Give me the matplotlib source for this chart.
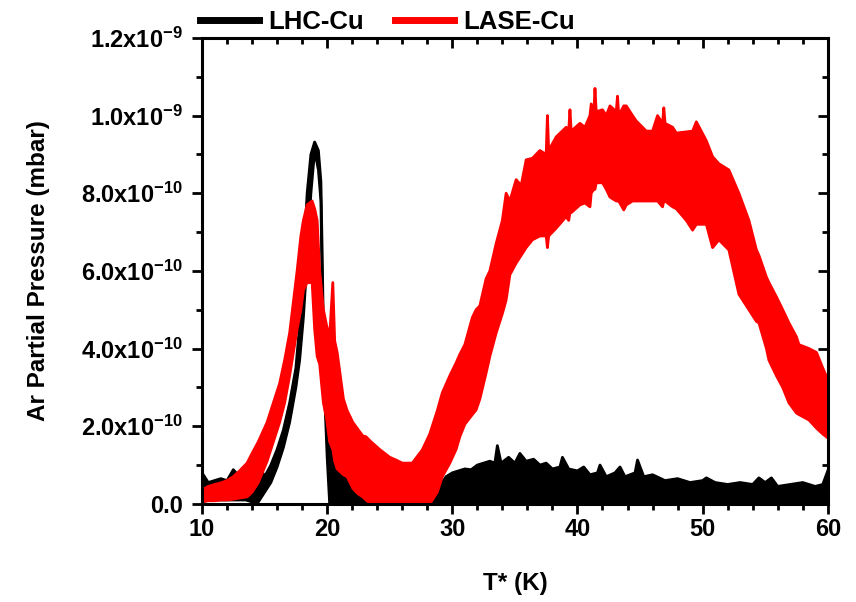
import numpy as np
import matplotlib
matplotlib.use("Agg")
import matplotlib.pyplot as plt
from matplotlib.lines import Line2D
from matplotlib.ticker import MultipleLocator, FuncFormatter, NullFormatter

plt.rcParams['font.family'] = 'Liberation Sans'
plt.rcParams['font.weight'] = 'bold'
plt.rcParams['mathtext.fontset'] = 'custom'
plt.rcParams['mathtext.rm'] = 'Liberation Sans:bold'
plt.rcParams['mathtext.it'] = 'Liberation Sans:bold'
plt.rcParams['mathtext.bf'] = 'Liberation Sans:bold'
plt.rcParams['mathtext.default'] = 'rm'

# values, pressure in units of 1e-10 mbar
# each trace is a noisy band: lower and upper envelope
lhc_T = [10.0, 10.5, 11.0, 11.5, 12.0, 12.5, 13.0, 13.5, 14.0, 14.5, 15.0, 15.5,
         16.0, 16.5, 17.0, 17.5, 17.8, 18.1, 18.4, 18.7, 19.0, 19.3, 19.5, 19.6,
         19.7, 19.85, 20.0, 20.2, 20.5, 21.0, 21.5, 22.0, 22.5, 23.0, 23.6, 24.0,
         28.5, 28.8, 29.0, 29.5, 30.0, 30.5, 31.0, 31.5, 32.0, 32.5, 33.0, 33.4,
         33.6, 33.9, 34.5, 35.0, 35.4, 35.9, 36.5, 37.0, 37.5, 38.0, 38.6, 38.8,
         39.3, 40.0, 40.5, 41.0, 41.6, 41.8, 42.3, 43.0, 43.4, 43.8, 44.6, 44.8,
         45.3, 46.0, 47.0, 48.0, 49.0, 50.0, 50.3, 51.0, 52.0, 53.0, 54.0, 54.5,
         55.0, 55.5, 56.0, 57.0, 58.0, 59.0, 59.6, 60.0]
lhc_lo = [0.05, 0.1, 0.1, 0.1, 0.1, 0.1, 0.1, 0.1, 0.05, 0.05, 0.3, 0.55,
          0.95, 1.45, 2.1, 3.0, 3.7, 4.8, 6.3, 8.0, 9.1, 8.6, 7.8, 5.5,
          4.0, 2.4, 1.2, 0.0, 0.0, 0.0, 0.0, 0.0, 0.0, 0.0, 0.0, 0.0,
          0.0, 0.0, 0.0, 0.0, 0.0, 0.0, 0.0, 0.0, 0.0, 0.0, 0.0, 0.0,
          0.0, 0.0, 0.0, 0.0, 0.0, 0.0, 0.0, 0.0, 0.0, 0.0, 0.0, 0.0,
          0.0, 0.0, 0.0, 0.0, 0.0, 0.0, 0.0, 0.0, 0.0, 0.0, 0.0, 0.0,
          0.0, 0.0, 0.0, 0.0, 0.0, 0.0, 0.0, 0.0, 0.0, 0.0, 0.0, 0.0,
          0.0, 0.0, 0.0, 0.0, 0.0, 0.0, 0.0, 0.0]
lhc_hi = [0.8, 0.55, 0.6, 0.65, 0.6, 0.88, 0.7, 0.85, 1.2, 1.05, 0.7, 1.0,
          1.4, 1.9, 2.6, 3.5, 4.6, 6.2, 8.0, 9.0, 9.32, 9.1, 8.3, 6.5,
          4.5, 2.8, 1.6, 1.45, 1.3, 1.13, 0.95, 0.7, 0.55, 0.4, 0.2, 0.1,
          0.1, 0.3, 0.45, 0.7, 0.8, 0.85, 0.9, 0.88, 1.0, 1.05, 1.1, 1.05,
          1.5, 1.05, 1.2, 1.05, 1.3, 1.1, 1.15, 1.0, 1.05, 0.9, 0.95, 1.2,
          0.9, 0.85, 0.95, 0.75, 0.8, 1.0, 0.7, 0.8, 0.95, 0.7, 0.8, 1.13,
          0.7, 0.75, 0.6, 0.65, 0.55, 0.6, 0.67, 0.55, 0.5, 0.55, 0.5, 0.67,
          0.55, 0.67, 0.45, 0.5, 0.55, 0.45, 0.5, 0.85]

lase_T = [10.0, 10.5, 11.0, 11.5, 12.0, 12.5, 13.0, 13.6, 14.0, 14.5, 15.2, 15.7,
          16.2, 16.6, 17.0, 17.3, 17.6, 17.9, 18.1, 18.4, 18.8, 19.0, 19.2, 19.4,
          19.7, 19.95, 20.2, 20.45, 20.6, 20.8, 21.3, 21.6, 22.05, 22.5, 22.85, 23.1,
          23.5, 24.2, 25.0, 25.5, 26.0, 26.8, 27.6, 28.2, 28.8, 29.2, 29.8, 30.3,
          30.6, 31.0, 31.6, 31.9, 32.2, 32.7, 33.0, 33.5, 34.0, 34.3, 34.6, 35.1,
          35.5, 35.9, 36.4, 37.0, 37.5, 37.6, 37.7, 38.3, 39.1, 39.3, 39.4, 39.5,
          40.2, 40.6, 41.0, 41.1, 41.3, 41.4, 41.5, 42.0, 42.3, 42.6, 43.1, 43.2,
          43.3, 43.7, 43.9, 44.4, 44.7, 45.5, 46.0, 46.4, 46.8, 46.9, 47.0, 47.6,
          47.9, 48.7, 49.2, 49.5, 50.3, 50.8, 51.3, 52.1, 52.9, 53.7, 54.3, 54.5,
          55.1, 55.3, 55.9, 56.4, 56.9, 57.5, 57.7, 58.5, 59.1, 59.6, 60.0]
lase_lo = [0.05, 0.08, 0.08, 0.1, 0.1, 0.12, 0.15, 0.18, 0.3, 0.55, 1.1, 1.6,
           2.1, 2.6, 3.3, 3.9, 4.5, 5.0, 5.5, 5.7, 5.7, 4.5, 3.8, 3.6,
           2.6, 2.2, 1.6, 1.4, 1.1, 0.9, 0.75, 0.7, 0.4, 0.25, 0.18, 0.1,
           0.0, 0.0, 0.0, 0.0, 0.0, 0.0, 0.0, 0.0, 0.3, 0.7, 1.05, 1.4,
           1.73, 2.05, 2.3, 2.42, 2.7, 3.37, 3.8, 4.4, 4.9, 5.25, 5.9, 6.2,
           6.4, 6.6, 6.8, 6.9, 6.9, 6.6, 6.9, 7.1, 7.4, 7.3, 7.5, 7.5,
           7.7, 7.75, 7.65, 8.0, 8.1, 8.1, 8.27, 8.27, 8.1, 7.9, 7.8, 7.8,
           7.8, 7.57, 7.7, 7.8, 7.8, 7.8, 7.8, 7.8, 7.65, 7.8, 7.8, 7.65,
           7.6, 7.3, 7.05, 7.2, 7.2, 6.6, 6.8, 6.54, 5.4, 5.0, 4.7, 4.66,
           4.0, 3.7, 3.3, 3.0, 2.6, 2.34, 2.3, 2.16, 1.95, 1.8, 1.7]
lase_hi = [0.36, 0.45, 0.5, 0.54, 0.6, 0.7, 0.85, 1.05, 1.3, 1.6, 2.1, 2.6,
           3.1, 3.7, 4.4, 5.2, 6.0, 6.9, 7.3, 7.7, 7.8, 7.6, 7.3, 6.0,
           5.0, 4.6, 4.3, 5.7, 4.2, 3.9, 2.7, 2.4, 2.1, 1.9, 1.75, 1.73,
           1.6, 1.4, 1.2, 1.13, 1.05, 1.05, 1.39, 1.8, 2.4, 2.86, 3.3, 3.63,
           3.85, 4.1, 4.8, 5.0, 5.1, 5.8, 6.0, 6.7, 7.3, 8.0, 7.8, 8.35,
           8.2, 8.86, 8.9, 9.1, 9.0, 10.0, 9.1, 9.45, 9.7, 9.6, 10.15, 9.6,
           9.8, 9.7, 10.0, 10.3, 10.0, 10.7, 10.1, 10.15, 10.0, 10.25, 10.1, 10.5,
           10.0, 10.25, 10.25, 10.0, 9.86, 9.6, 9.6, 10.0, 9.8, 10.2, 9.8, 9.7,
           9.55, 9.58, 9.6, 9.84, 9.35, 8.94, 8.76, 8.6, 8.0, 7.3, 6.54, 6.4,
           5.84, 5.7, 5.33, 5.0, 4.66, 4.3, 4.1, 4.0, 3.9, 3.5, 3.2]

unit = 1e-10
series = [("LHC-Cu", lhc_T, lhc_lo, lhc_hi, "black"),
          ("LASE-Cu", lase_T, lase_lo, lase_hi, "#ff0000")]


def ytick_fmt(v, pos):
    if abs(v) < 1e-15:
        return "0.0"
    exp = int(np.floor(np.log10(abs(v)) + 1e-9))
    man = v / 10 ** exp
    return r"%.1fx10$^{%d}$" % (man, exp)


fig = plt.figure(figsize=(8.56, 6.02), dpi=100)
ax = fig.add_axes([0.236, 0.163, 0.731, 0.774])

for i, (name, T, lo, hi, col) in enumerate(series):
    T = np.array(T)
    lo = np.array(lo) * unit
    hi = np.array(hi) * unit
    z = 2 + i
    ax.fill_between(T, lo, hi, color=col, lw=0, zorder=z)
    ax.plot(T, lo, color=col, lw=2, zorder=z)
    ax.plot(T, hi, color=col, lw=2, zorder=z)

ax.set_xlim(10, 60)
ax.set_ylim(0, 1.2e-9)
ax.xaxis.set_major_locator(MultipleLocator(10))
ax.xaxis.set_minor_locator(MultipleLocator(2))
ax.yaxis.set_major_locator(MultipleLocator(2e-10))
ax.yaxis.set_minor_locator(MultipleLocator(1e-10))
ax.yaxis.set_major_formatter(FuncFormatter(ytick_fmt))
ax.yaxis.get_offset_text().set_visible(False)

for s in ax.spines.values():
    s.set_linewidth(2.2)
    s.set_zorder(5)
ax.tick_params(which='both', direction='out', width=2, labelsize=17)
ax.tick_params(which='major', length=7)
ax.tick_params(which='minor', length=4)
ax.tick_params(axis='y', pad=7)

# mirrored ticks pointing inward on top and right
top = ax.secondary_xaxis('top')
top.xaxis.set_major_locator(MultipleLocator(10))
top.xaxis.set_minor_locator(MultipleLocator(2))
top.xaxis.set_major_formatter(NullFormatter())
top.tick_params(which='both', direction='in', width=2, labeltop=False)
top.tick_params(which='major', length=7)
top.tick_params(which='minor', length=4)
right = ax.secondary_yaxis('right')
right.yaxis.set_major_locator(MultipleLocator(2e-10))
right.yaxis.set_minor_locator(MultipleLocator(1e-10))
right.yaxis.set_major_formatter(NullFormatter())
right.yaxis.get_offset_text().set_visible(False)
right.tick_params(which='both', direction='in', width=2, labelright=False)
right.tick_params(which='major', length=7)
right.tick_params(which='minor', length=4)

ax.set_xlabel("T* (K)", fontsize=17.5, fontweight='bold', labelpad=22)
ax.set_ylabel("Ar Partial Pressure (mbar)", fontsize=17.5, fontweight='bold', labelpad=22)

handles = [Line2D([], [], color=c, lw=5) for _, _, _, _, c in series]
fig.legend(handles, [s[0] for s in series], loc='center left',
           bbox_to_anchor=(0.222, 0.963), ncol=2, frameon=False,
           fontsize=18.5, handlelength=2.3, handletextpad=0.35, columnspacing=1.2,
           borderaxespad=0)

fig.savefig("out.png", dpi=100)
